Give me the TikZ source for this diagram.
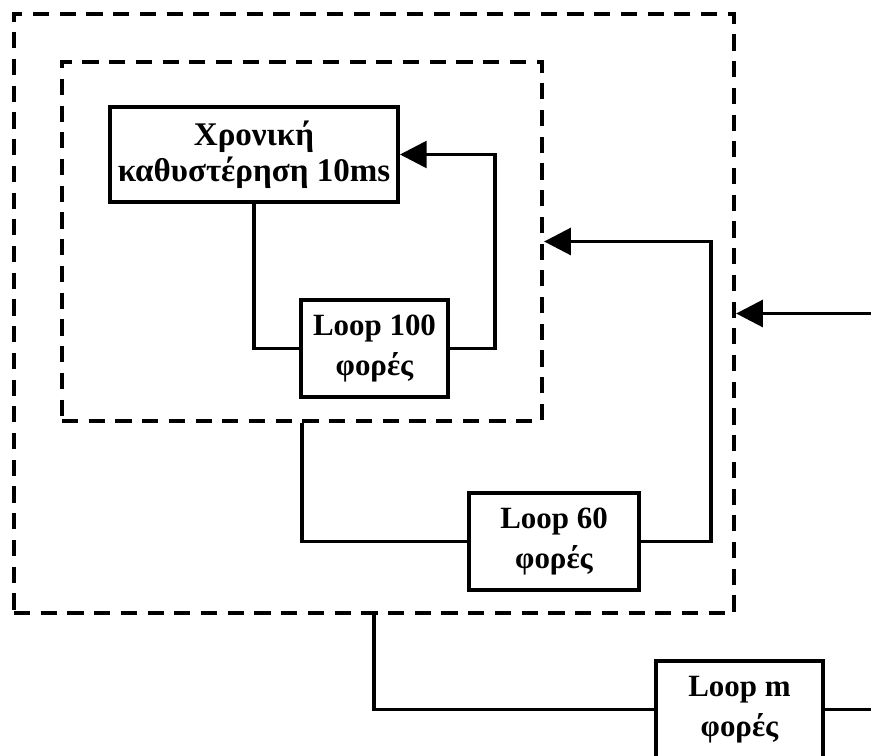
\documentclass[tikz,border=0pt]{standalone}
\usepackage{fontspec}
\setmainfont{Liberation Serif}
\usetikzlibrary{arrows.meta}

\begin{document}
\begin{tikzpicture}[x=0.025cm,y=-0.025cm,
    block/.style={draw,line width=2.8pt,fill=white,align=center,inner sep=0pt,
        font=\bfseries\fontsize{22}{28.4}\selectfont},
    group/.style={draw,line width=3pt,dash pattern=on 11.5pt off 7.5pt,inner sep=0pt},
    link/.style={line width=2.5pt},
    feed/.style={link,-{Triangle[length=19pt,width=19pt]}}]
    \useasboundingbox (0,0) rectangle (871,756);

    % Loop frames
    \node[group,minimum width=720*0.025cm,minimum height=599*0.025cm] (outer) at (374,313.5) {};
    \node[group,minimum width=480*0.025cm,minimum height=359*0.025cm] (inner) at (302,241.5) {};

    % Blocks
    \node[block,minimum width=288*0.025cm,minimum height=95*0.025cm,
        font=\bfseries\fontsize{23.5}{25.5}\selectfont] (delay) at (254,154.5) {Χρονική\\καθυστέρηση 10ms};
    \node[block,minimum width=147*0.025cm,minimum height=97*0.025cm] (loopA) at (374.5,348.5) {Loop 100\\φορές};
    \node[block,minimum width=170*0.025cm,minimum height=97*0.025cm] (loopB) at (554,541.5) {Loop 60\\φορές};
    \node[block,minimum width=167*0.025cm,minimum height=97*0.025cm] (loopC) at (739.5,709.5) {Loop m\\φορές};

    % Free ends at the right edge
    \coordinate (inC) at (871,313.5);
    \coordinate (outC) at (871,709.5);

    % Inner loop
    \draw[link] (delay.south) |- (loopA.west);
    \draw[feed] (loopA.east) -- ++(45,0) |- (delay.east);

    % Middle loop
    \draw[link] (inner.south) |- (loopB.west);
    \draw[feed] (loopB.east) -- ++(70,0) |- (inner.east);

    % Outer loop
    \draw[link] (outer.south) |- (loopC.west);
    \draw[link] (loopC.east) -- (outC);
    \draw[feed] (inC) -- (outer.east);
\end{tikzpicture}
\end{document}
